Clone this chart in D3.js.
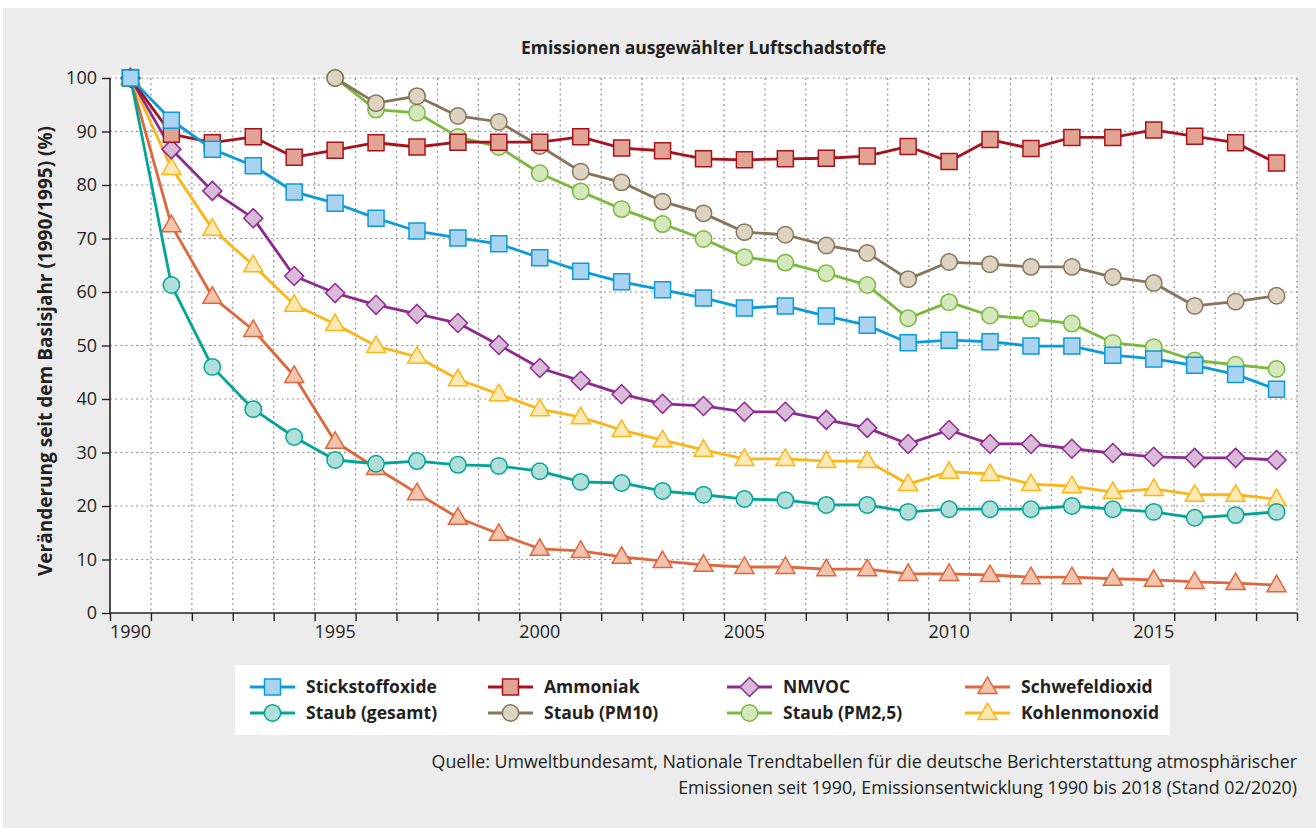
<!DOCTYPE html>
<html><head><meta charset="utf-8">
<script src="https://cdn.jsdelivr.net/npm/d3@7"></script>
<style>
html,body{margin:0;padding:0;background:#fff;}
svg{display:block;font-family:"Open Sans",sans-serif;}
</style></head>
<body>
<svg id="chart" width="1316" height="828"></svg>
<script>
const years = [1990,1991,1992,1993,1994,1995,1996,1997,1998,1999,2000,2001,2002,2003,2004,2005,2006,2007,2008,2009,2010,2011,2012,2013,2014,2015,2016,2017,2018];
const xTickLabels = [1990,1995,2000,2005,2010,2015];
const yTicks = [0,10,20,30,40,50,60,70,80,90,100];

const stickstoffoxide = [100,92.1,86.7,83.6,78.7,76.6,73.8,71.4,70.1,69.0,66.4,63.9,61.9,60.4,58.9,57.0,57.4,55.5,53.8,50.5,51.0,50.7,49.9,49.9,48.2,47.5,46.3,44.6,41.8];
const ammoniak = [100,89.5,87.9,89.0,85.2,86.5,87.9,87.1,88.0,88.0,88.0,89.0,86.9,86.4,84.9,84.7,84.9,85.0,85.4,87.2,84.4,88.5,86.8,88.9,88.9,90.3,89.1,87.9,84.1];
const nmvoc = [100,86.7,78.9,73.8,63.0,59.8,57.6,55.9,54.2,50.1,45.8,43.4,40.9,39.1,38.7,37.6,37.6,36.1,34.6,31.6,34.2,31.6,31.6,30.7,29.9,29.2,29.0,29.0,28.6];
const schwefeldioxid = [100,72.5,59.1,52.9,44.3,32.0,27.1,22.4,17.8,14.8,12.0,11.6,10.5,9.7,9.0,8.6,8.6,8.2,8.2,7.3,7.3,7.1,6.7,6.7,6.4,6.2,5.8,5.6,5.2];
const staubGesamt = [100,61.3,46.0,38.1,32.9,28.6,27.9,28.4,27.7,27.5,26.5,24.5,24.3,22.8,22.1,21.3,21.1,20.2,20.2,18.9,19.4,19.4,19.4,20.0,19.4,18.9,17.8,18.3,18.9];
const staubPM10 = [null,null,null,null,null,100,95.3,96.6,92.9,91.8,87.3,82.5,80.5,76.9,74.7,71.2,70.7,68.7,67.3,62.4,65.6,65.2,64.7,64.7,62.8,61.7,57.4,58.2,59.3];
const staubPM25 = [null,null,null,null,null,100,94.1,93.5,89.0,87.1,82.2,78.8,75.5,72.7,69.9,66.5,65.5,63.5,61.3,55.1,58.1,55.6,55.0,54.1,50.5,49.7,47.2,46.4,45.6];
const kohlenmonoxid = [100,83.2,71.8,65.0,57.6,54.0,49.9,47.9,43.7,40.9,38.1,36.6,34.2,32.3,30.5,28.8,28.8,28.4,28.4,24.1,26.4,26.0,24.1,23.7,22.6,23.2,22.1,22.1,21.3];

const seriesNames = ["Stickstoffoxide","Ammoniak","NMVOC","Schwefeldioxid","Staub (gesamt)","Staub (PM10)","Staub (PM2,5)","Kohlenmonoxid"];
const seriesValues = [stickstoffoxide,ammoniak,nmvoc,schwefeldioxid,staubGesamt,staubPM10,staubPM25,kohlenmonoxid];
const lineColors = ["#0a9bd9","#a7121f","#8c2a8e","#e0663d","#00a596","#85755b","#79b83b","#fbb515"];
const fillColors = ["#aad3f0","#e1a492","#d9bad9","#f2c4ad","#b0ded9","#ddd3c1","#d4e7bd","#fee8b3"];
const symbolTypes = ["square","square","diamond","triangle","circle","circle","circle","triangle"];
const drawOrder = [6,5,3,7,4,2,1,0];

const title = "Emissionen ausgewählter Luftschadstoffe";
const yLabel = "Veränderung seit dem Basisjahr (1990/1995) (%)";
const sourceLines = ["Quelle: Umweltbundesamt, Nationale Trendtabellen für die deutsche Berichterstattung atmosphärischer","Emissionen seit 1990, Emissionsentwicklung 1990 bis 2018 (Stand 02/2020)"];

const svg = d3.select("#chart");
const W = 1316, H = 828;
const L = 110, R = 1297, T = 78, B = 613;

svg.append("rect").attr("x",3).attr("y",8).attr("width",W-3).attr("height",H-8).attr("fill","#ebeceb");
svg.append("rect").attr("x",L).attr("y",T-3).attr("width",R-L).attr("height",B-T+3).attr("fill","#fff");

const x = d3.scaleBand().domain(years).range([L,R]).paddingInner(0).paddingOuter(0);
const xe = d3.scaleLinear().domain([1990,2019]).range([L,R]);
const y = d3.scaleLinear().domain([0,100]).range([B,T]);
const cx = yr => x(yr) + x.bandwidth()/2;

// gridlines
const grid = svg.append("g").attr("stroke","#8f8f8f").attr("stroke-width",1.2).attr("stroke-dasharray","2,3.2");
grid.selectAll("line.h").data(yTicks.filter(d=>d>0)).join("line")
  .attr("x1",L).attr("x2",R).attr("y1",d=>y(d)).attr("y2",d=>y(d));
const edges = years.slice(1).concat([2019]);
grid.selectAll("line.v").data(edges).join("line")
  .attr("x1",d=>xe(d)).attr("x2",d=>xe(d)).attr("y1",T).attr("y2",B);

// axes
const yAxis = svg.append("g").attr("transform",`translate(${L},0)`)
  .call(d3.axisLeft(y).tickValues(yTicks).tickSize(8).tickPadding(5));
yAxis.select(".domain").attr("stroke","#231f20").attr("stroke-width",1.6).attr("d",`M0,${T}V${B}`);
yAxis.selectAll(".tick line").attr("stroke","#231f20").attr("stroke-width",1.4);
yAxis.selectAll(".tick text").attr("fill","#231f20").style("font-size","18px").style("font-family","Open Sans");

const xAxisTicks = svg.append("g").attr("transform",`translate(0,${B})`)
  .call(d3.axisBottom(xe).tickValues([1990].concat(edges)).tickSize(8).tickFormat(""));
xAxisTicks.select(".domain").attr("stroke","#231f20").attr("stroke-width",1.6).attr("d",`M${L},0H${R}`);
xAxisTicks.selectAll(".tick line").attr("stroke","#231f20").attr("stroke-width",1.4);

const xAxisLabels = svg.append("g").attr("transform",`translate(0,${B})`)
  .call(d3.axisBottom(x).tickValues(xTickLabels).tickSize(0).tickPadding(12));
xAxisLabels.select(".domain").remove();
xAxisLabels.selectAll(".tick text").attr("fill","#231f20").style("font-size","18px").style("font-family","Open Sans");

// symbols
function symPath(type, s){
  if(type==="square"){ const h=8*s; return `M${-h},${-h}H${h}V${h}H${-h}Z`; }
  if(type==="diamond"){ const h=9.5*s; return `M0,${-h}L${h},0L0,${h}L${-h},0Z`; }
  if(type==="triangle"){ return `M0,${-10*s}L${9.5*s},${6.5*s}L${-9.5*s},${6.5*s}Z`; }
  return d3.symbol(d3.symbolCircle, Math.PI*(8.2*s)*(8.2*s))();
}

const line = d3.line().defined(d=>d.v!=null).x(d=>cx(d.yr)).y(d=>y(d.v));

drawOrder.forEach(i=>{
  const pts = years.map((yr,j)=>({yr, v: seriesValues[i][j]}));
  const g = svg.append("g");
  g.append("path").datum(pts).attr("d",line).attr("fill","none")
    .attr("stroke",lineColors[i]).attr("stroke-width",2.8).attr("stroke-linejoin","round");
  g.selectAll("path.m").data(pts.filter(d=>d.v!=null)).join("path").attr("class","m")
    .attr("transform",d=>`translate(${cx(d.yr)},${y(d.v)})`)
    .attr("d",symPath(symbolTypes[i],1))
    .attr("fill",fillColors[i]).attr("stroke",lineColors[i]).attr("stroke-width",1.5);
});

// title
svg.append("text").attr("x",(L+R)/2).attr("y",54).attr("text-anchor","middle")
  .attr("fill","#231f20").style("font-size","17.5px").style("font-weight","bold").text(title);

// y label
svg.append("text").attr("transform",`translate(52,351) rotate(-90)`).attr("text-anchor","middle")
  .attr("fill","#231f20").style("font-size","19px").style("font-weight","bold").text(yLabel);

// legend
svg.append("rect").attr("x",235).attr("y",665).attr("width",935).attr("height",70).attr("fill","#fff");
const legCols = [250,488,727,965];
const legRows = [687,713];
seriesNames.forEach((name,i)=>{
  const lx = legCols[i%4], ly = legRows[Math.floor(i/4)];
  const g = svg.append("g").attr("transform",`translate(${lx},${ly})`);
  g.append("line").attr("x1",0).attr("x2",45).attr("y1",0).attr("y2",0)
    .attr("stroke",lineColors[i]).attr("stroke-width",2.8);
  g.append("path").attr("transform","translate(22.5,0)").attr("d",symPath(symbolTypes[i],1))
    .attr("fill",fillColors[i]).attr("stroke",lineColors[i]).attr("stroke-width",1.5);
  g.append("text").attr("x",56).attr("y",6).attr("fill","#231f20")
    .style("font-size","17.5px").style("font-weight","bold").text(name);
});

// source
sourceLines.forEach((t,i)=>{
  svg.append("text").attr("x",R).attr("y",768+i*26).attr("text-anchor","end")
    .attr("fill","#231f20").style("font-size","17.8px").text(t);
});
</script>
</body></html>
